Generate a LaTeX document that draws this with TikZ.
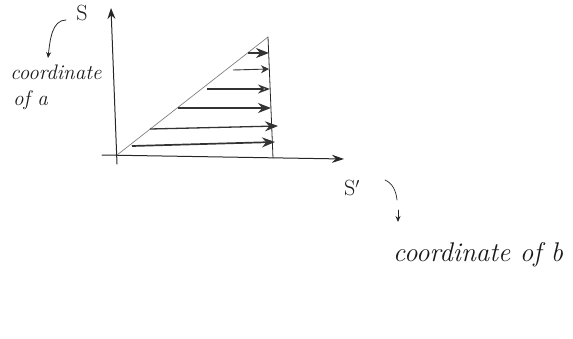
\documentclass[tikz,border=0pt]{standalone}
\usepackage{fontspec}
\setmainfont{Latin Modern Roman}
\usetikzlibrary{arrows.meta}
\begin{document}
\begin{tikzpicture}[x=1pt,y=-1pt,
  pen/.style={draw=black!85, line width=1pt, line cap=round},
  faint/.style={draw=black!50, line width=0.7pt},
  flow/.style={draw=black!80, line width=1.3pt, -{Stealth[length=13pt,width=10pt]}},
  hand/.style={inner sep=0pt, text=black!90, font=\itshape\fontsize{21}{23}\selectfont}]
\useasboundingbox (0,0) rectangle (573,338);
% axes
\coordinate (o) at (117,155);
\coordinate (vb) at (117,164);
\coordinate (vt) at (111,8);
\coordinate (hl) at (102,155);
\coordinate (hr) at (344,159);
\draw[pen, -{Stealth[length=11pt,width=8pt]}] (vb) -- (vt);
\draw[pen, -{Stealth[length=12pt,width=8pt]}] (hl) -- (hr);
% triangle
\coordinate (tt) at (268,37);
\coordinate (tb) at (273,158);
\draw[faint] (o) -- (tt);
\draw[pen, line width=0.8pt] (tt) -- (tb);
% flow arrows
\coordinate (a1) at (248,53);  \coordinate (b1) at (269,53);
\coordinate (a2) at (233,70);  \coordinate (b2) at (269,69);
\coordinate (a3) at (207,89);  \coordinate (b3) at (270,89);
\coordinate (a4) at (178,108); \coordinate (b4) at (271,108);
\coordinate (a5) at (150,129); \coordinate (b5) at (278,126);
\coordinate (a6) at (132,146); \coordinate (b6) at (275,142);
\draw[flow] (a1) -- (b1);
\draw[flow, line width=0.9pt, -{Stealth[length=8pt,width=8pt]}] (a2) -- (b2);
\draw[flow, -{Stealth[open,length=12pt,width=9pt,line width=1.5pt]}] (a3) -- (b3);
\draw[flow] (a4) -- (b4);
\draw[flow] (a5) -- (b5);
\draw[flow, line width=1.7pt] (a6) -- (b6);
% labels
\node[hand, font=\fontsize{22}{24}\selectfont] (s) at (82,13) {S};
\node[hand] (ca) at (56,72) {coordinate};
\node[hand, anchor=west] (oa) at (13,100) {of a};
\coordinate (c1) at (66,20);
\coordinate (c2) at (48,58);
\draw[pen, line width=0.8pt, -{Stealth[length=6pt,width=5pt]}] (c1) .. controls (52,20) and (50,40) .. (c2);
\node[hand, font=\fontsize{22}{24}\selectfont] (sp) at (352,188) {S$'$};
\coordinate (d1) at (385,180);
\coordinate (d2) at (398,222);
\draw[pen, line width=0.7pt] (d1) .. controls (392,183) and (396,190) .. (397,200);
\draw[pen, line width=0.8pt, -{Stealth[length=6pt,width=5pt]}] (398,210) -- (d2);
\node[hand, anchor=west, font=\itshape\fontsize{27}{29}\selectfont] (cb) at (393,255) {coordinate of b};
\end{tikzpicture}
\end{document}
